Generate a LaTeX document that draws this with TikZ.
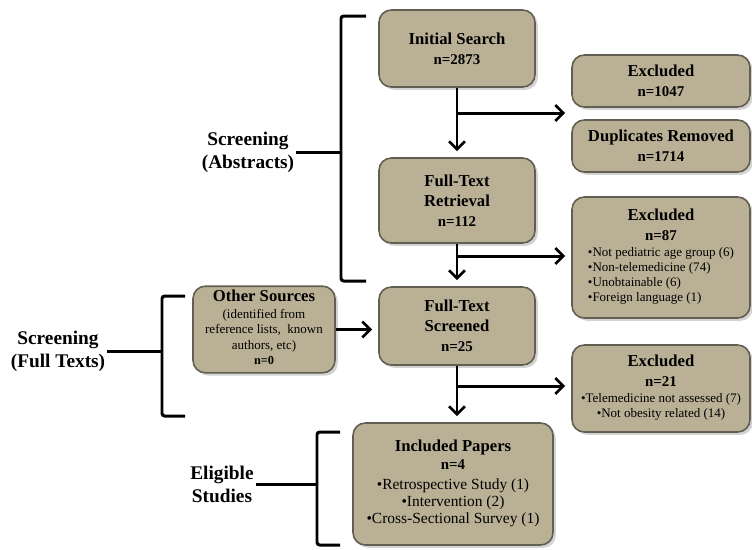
\documentclass[tikz,border=0pt]{standalone}
\usepackage{fontspec}
\setmainfont{Liberation Serif}
\usetikzlibrary{arrows.meta,shadows}

\definecolor{boxfill}{RGB}{186,176,149}
\definecolor{boxline}{RGB}{98,94,82}

\newcommand{\counttxt}[1]{{\fontsize{8.5}{11}\selectfont\bfseries #1}}
\newcommand{\listtxt}[2][c]{{\fontsize{7.4}{8.6}\selectfont\mdseries\begin{tabular}[t]{@{}#1@{}}#2\end{tabular}}}

\tikzset{
	stage/.style={draw=boxline, fill=boxfill, line width=0.9pt, rounded corners=7pt,
		align=center, inner sep=2pt, font=\fontsize{9.5}{11.3}\selectfont\bfseries,
		drop shadow={shadow xshift=1.6pt, shadow yshift=-1.6pt, opacity=0.35}},
	flow/.style={line width=1.7pt, shorten >=3.5pt, -{Straight Barb[length=4.5pt,width=9pt,line width=1.5pt]}},
	brace/.style={line width=1.7pt, rounded corners=1.5pt},
	phase/.style={font=\fontsize{11}{13}\selectfont\bfseries, align=center, inner sep=1pt}
}

\begin{document}
	\begin{tikzpicture}[x=0.02cm, y=-0.02cm]
		\useasboundingbox (0,0) rectangle (752,549);
		% boxes of the flow
		\node[stage, minimum width=3.12cm, minimum height=1.54cm] (init) at (457,48.5)
			{Initial Search\\\counttxt{n=2873}};
		\node[stage, minimum width=3.56cm, minimum height=1.04cm] (exc1) at (661,81)
			{Excluded\\\counttxt{n=1047}};
		\node[stage, minimum width=3.56cm, minimum height=1.04cm] (dup) at (661,146)
			{Duplicates Removed\\\counttxt{n=1714}};
		\node[stage, minimum width=3.12cm, minimum height=1.7cm] (retr) at (457,200.5)
			{Full-Text\\Retrieval\\\counttxt{n=112}};
		\node[stage, minimum width=3.56cm, minimum height=2.42cm] (exc2) at (661,257.5)
			{Excluded\\\counttxt{n=87}\\[-2.5pt]
			\listtxt[l]{•Not pediatric age group (6)\\•Non-telemedicine (74)\\•Unobtainable (6)\\•Foreign language (1)}};
		\node[stage, minimum width=2.84cm, minimum height=1.7cm] (other) at (264,329.5)
			{Other Sources\\[-1.8pt]\listtxt{(identified from\\[0.4pt]reference lists,\ \ known\\[0.4pt]authors, etc)\\{\bfseries\fontsize{7}{8}\selectfont n=0}}};
		\node[stage, minimum width=3.12cm, minimum height=1.56cm] (scr) at (457,326)
			{Full-Text\\Screened\\\counttxt{n=25}};
		\node[stage, minimum width=3.56cm, minimum height=1.74cm] (exc3) at (661,388.5)
			{Excluded\\\counttxt{n=21}\\[-2.5pt]
			\listtxt{•Telemedicine not assessed (7)\\•Not obesity related (14)}};
		\node[stage, minimum width=4.0cm, minimum height=2.44cm] (incl) at (453,484)
			{Included Papers\\[-1pt]\counttxt{n=4}\\
			{\fontsize{8.8}{9.6}\selectfont\mdseries\begin{tabular}[t]{@{}c@{}}•Retrospective Study (1)\\•Intervention (2)\\•Cross-Sectional Survey (1)\end{tabular}}};

		% arrows
		\coordinate (br1) at (457,113);
		\coordinate (br2) at (457,256);
		\coordinate (br3) at (457,386);
		\draw[flow] (init.south) -- (retr.north);
		\draw[flow] (br1) -- (br1 -| exc1.west);
		\draw[flow] (retr.south) -- (scr.north);
		\draw[flow] (br2) -- (br2 -| exc2.west);
		\draw[flow] (scr.south) -- (scr.south |- incl.north);
		\draw[flow] (br3) -- (br3 -| exc3.west);
		\draw[flow] (other.east) -- (other.east -| scr.west);

		% stages at the left
		\node[phase] (abs) at (248,152) {Screening\\(Abstracts)};
		\draw[brace] (366,16) -- (341,16) -- (341,281) -- (366,281);
		\draw[brace] (abs.east) -- (abs.east -| 341,0);
		\node[phase] (full) at (58,351) {Screening\\(Full Texts)};
		\draw[brace] (185,296) -- (162,296) -- (162,416) -- (185,416);
		\draw[brace] (full.east) -- (full.east -| 162,0);
		\node[phase] (elig) at (222,484) {Eligible\\Studies};
		\draw[brace] (340,432) -- (317,432) -- (317,545) -- (340,545);
		\draw[brace] (elig.east) -- (elig.east -| 317,0);
	\end{tikzpicture}
\end{document}
